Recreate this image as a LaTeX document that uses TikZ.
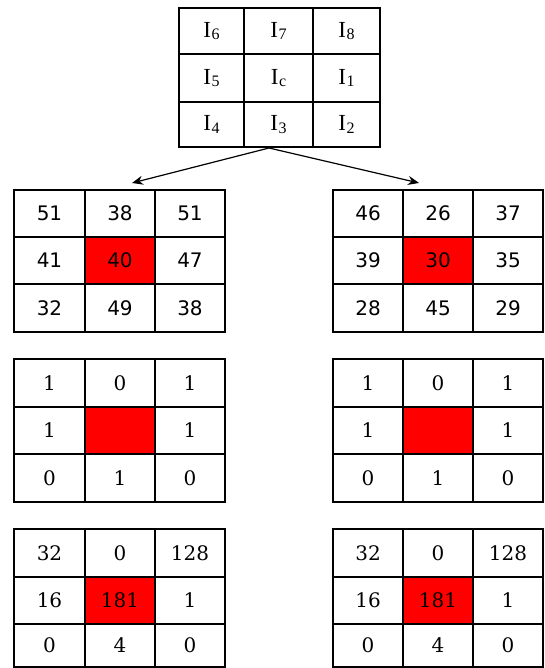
\documentclass[tikz,border=0pt]{standalone}
\usepackage{fontspec}
\setmainfont{Liberation Serif}
\newfontfamily\sansnum{DejaVu Sans}
\newfontfamily\serifnum{DejaVu Serif}
\usetikzlibrary{arrows.meta}
\tikzset{
  cellbox/.style={draw=black, line width=1.3pt, inner sep=0pt, fill=white},
  redcell/.style={fill=red},
  topfont/.style={font=\fontsize{23}{23}\selectfont},
  sansfont/.style={font=\sansnum\fontsize{20}{20}\selectfont},
  seriffont/.style={font=\serifnum\fontsize{20}{20}\selectfont},
  branch/.style={draw=black, line width=1.2pt, -{Stealth[length=11pt,width=9pt]}}
}
% \cell[style]{name}{xa}{xb}{ya}{yb}{text}
\newcommand\cell[7][]{%
  \node[cellbox,#1,minimum width={(#4-#3)*1pt},minimum height={(#6-#5)*1pt}]
    (#2) at ({(#3+#4)/2},{-(#5+#6)/2}) {#7};}
\newcommand\Isub[1]{I\kern0.5pt\raisebox{-2.5pt}{\fontsize{16}{16}\selectfont #1}}
\begin{document}
\begin{tikzpicture}[x=1pt,y=1pt]
\useasboundingbox (0,0) rectangle (544,-668);
% top grid
\cell[topfont]{t11}{179}{244}{8}{54}{\Isub{6}}
\cell[topfont]{t12}{244}{313}{8}{54}{\Isub{7}}
\cell[topfont]{t13}{313}{380}{8}{54}{\Isub{8}}
\cell[topfont]{t21}{179}{244}{54}{102}{\Isub{5}}
\cell[topfont]{t22}{244}{313}{54}{102}{\Isub{c}}
\cell[topfont]{t23}{313}{380}{54}{102}{\Isub{1}}
\cell[topfont]{t31}{179}{244}{102}{147}{\Isub{4}}
\cell[topfont]{t32}{244}{313}{102}{147}{\Isub{3}}
\cell[topfont]{t33}{313}{380}{102}{147}{\Isub{2}}
% left value grid
\cell[sansfont]{a11}{14}{85}{190}{237}{51}
\cell[sansfont]{a12}{85}{155}{190}{237}{38}
\cell[sansfont]{a13}{155}{225}{190}{237}{51}
\cell[sansfont]{a21}{14}{85}{237}{284}{41}
\cell[sansfont,redcell]{a22}{85}{155}{237}{284}{40}
\cell[sansfont]{a23}{155}{225}{237}{284}{47}
\cell[sansfont]{a31}{14}{85}{284}{332}{32}
\cell[sansfont]{a32}{85}{155}{284}{332}{49}
\cell[sansfont]{a33}{155}{225}{284}{332}{38}
% right value grid
\cell[sansfont]{b11}{333}{403}{190}{237}{46}
\cell[sansfont]{b12}{403}{473}{190}{237}{26}
\cell[sansfont]{b13}{473}{543}{190}{237}{37}
\cell[sansfont]{b21}{333}{403}{237}{284}{39}
\cell[sansfont,redcell]{b22}{403}{473}{237}{284}{30}
\cell[sansfont]{b23}{473}{543}{237}{284}{35}
\cell[sansfont]{b31}{333}{403}{284}{332}{28}
\cell[sansfont]{b32}{403}{473}{284}{332}{45}
\cell[sansfont]{b33}{473}{543}{284}{332}{29}
% left binary grid
\cell[seriffont]{c11}{14}{85}{359}{407}{1}
\cell[seriffont]{c12}{85}{155}{359}{407}{0}
\cell[seriffont]{c13}{155}{225}{359}{407}{1}
\cell[seriffont]{c21}{14}{85}{407}{454}{1}
\cell[seriffont,redcell]{c22}{85}{155}{407}{454}{}
\cell[seriffont]{c23}{155}{225}{407}{454}{1}
\cell[seriffont]{c31}{14}{85}{454}{502}{0}
\cell[seriffont]{c32}{85}{155}{454}{502}{1}
\cell[seriffont]{c33}{155}{225}{454}{502}{0}
% right binary grid
\cell[seriffont]{d11}{333}{403}{359}{407}{1}
\cell[seriffont]{d12}{403}{473}{359}{407}{0}
\cell[seriffont]{d13}{473}{543}{359}{407}{1}
\cell[seriffont]{d21}{333}{403}{407}{454}{1}
\cell[seriffont,redcell]{d22}{403}{473}{407}{454}{}
\cell[seriffont]{d23}{473}{543}{407}{454}{1}
\cell[seriffont]{d31}{333}{403}{454}{502}{0}
\cell[seriffont]{d32}{403}{473}{454}{502}{1}
\cell[seriffont]{d33}{473}{543}{454}{502}{0}
% left weighted grid
\cell[seriffont]{e11}{14}{85}{529}{577}{32}
\cell[seriffont]{e12}{85}{155}{529}{577}{0}
\cell[seriffont]{e13}{155}{225}{529}{577}{128}
\cell[seriffont]{e21}{14}{85}{577}{624}{16}
\cell[seriffont,redcell]{e22}{85}{155}{577}{624}{181}
\cell[seriffont]{e23}{155}{225}{577}{624}{1}
\cell[seriffont]{e31}{14}{85}{624}{667}{0}
\cell[seriffont]{e32}{85}{155}{624}{667}{4}
\cell[seriffont]{e33}{155}{225}{624}{667}{0}
% right weighted grid
\cell[seriffont]{f11}{333}{403}{529}{577}{32}
\cell[seriffont]{f12}{403}{473}{529}{577}{0}
\cell[seriffont]{f13}{473}{543}{529}{577}{128}
\cell[seriffont]{f21}{333}{403}{577}{624}{16}
\cell[seriffont,redcell]{f22}{403}{473}{577}{624}{181}
\cell[seriffont]{f23}{473}{543}{577}{624}{1}
\cell[seriffont]{f31}{333}{403}{624}{667}{0}
\cell[seriffont]{f32}{403}{473}{624}{667}{4}
\cell[seriffont]{f33}{473}{543}{624}{667}{0}
% arrows
\coordinate (src) at (269,-148);
\coordinate (ltip) at (132,-183);
\coordinate (rtip) at (419,-183);
\draw[branch] (src) -- (ltip);
\draw[branch] (src) -- (rtip);
\end{tikzpicture}
\end{document}
